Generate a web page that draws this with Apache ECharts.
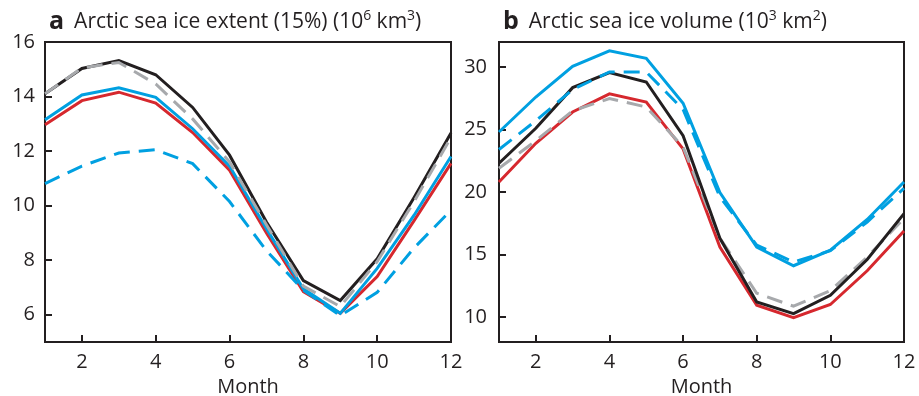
<!DOCTYPE html>
<html lang="en">
<head>
    <meta charset="UTF-8">
    <title>Arctic sea ice</title>
    <script src="https://cdn.jsdelivr.net/npm/echarts@6/dist/echarts.min.js"></script>
    <style>
        body { margin: 0; background: #fff; }
        #chart { width: 919px; height: 396px; }
    </style>
</head>
<body>
    <div id="chart"></div>
    <script>
        // months 1..12
        var months = [1, 2, 3, 4, 5, 6, 7, 8, 9, 10, 11, 12]

        // panel a: extent (15%)
        var extBlack = [14.1, 15.03, 15.32, 14.8, 13.6, 11.85, 9.4, 7.25, 6.52, 8.05, 10.3, 12.66]
        var extGrey = [14.1, 15.05, 15.25, 14.46, 13.18, 11.6, 9.3, 7.05, 6.3, 7.95, 10.15, 12.5]
        var extBlue = [13.15, 14.06, 14.32, 13.97, 12.82, 11.45, 9.15, 6.95, 6.05, 7.7, 9.65, 11.8]
        var extRed = [12.97, 13.85, 14.16, 13.76, 12.68, 11.3, 9.0, 6.85, 6.05, 7.4, 9.45, 11.55]
        var extBlueDash = [10.81, 11.45, 11.93, 12.05, 11.54, 10.15, 8.35, 6.9, 5.97, 6.82, 8.45, 9.83]

        // panel b: volume
        var volBlue = [24.8, 27.6, 30.05, 31.3, 30.7, 27.1, 19.95, 15.6, 14.1, 15.35, 17.8, 20.8]
        var volBlueDash = [23.4, 25.7, 28.2, 29.6, 29.6, 26.6, 19.6, 15.75, 14.4, 15.3, 17.6, 20.3]
        var volBlack = [22.3, 25.1, 28.35, 29.55, 28.8, 24.5, 16.3, 11.2, 10.27, 11.74, 14.6, 18.27]
        var volGrey = [21.9, 24.1, 26.5, 27.47, 26.8, 23.6, 16.3, 11.9, 10.86, 12.1, 14.8, 17.9]
        var volRed = [20.8, 23.9, 26.4, 27.85, 27.2, 23.45, 15.6, 10.95, 9.95, 11.0, 13.7, 16.88]

        var xTicks = [2, 4, 6, 8, 10, 12]
        var extTicks = [6, 8, 10, 12, 14, 16]
        var volTicks = [10, 15, 20, 25, 30]

        var ink = '#231f20'
        var cBlack = '#231f20', cGrey = '#a7a9ac', cBlue = '#00a0e1', cRed = '#d6282e'
        var font = 'Open Sans'

        function pairs(arr) {
            return months.map(function (m, i) { return [m, arr[i]] })
        }

        function line(name, arr, color, dashed, gi) {
            return {
                name: name,
                type: 'line',
                xAxisIndex: gi,
                yAxisIndex: gi,
                data: pairs(arr),
                symbol: 'none',
                silent: true,
                animation: false,
                lineStyle: {
                    color: color,
                    width: 3,
                    type: dashed ? [16, 9] : 'solid',
                    cap: 'butt',
                    join: 'miter'
                }
            }
        }

        function xAx(gi) {
            return {
                type: 'value', gridIndex: gi, min: 1, max: 12,
                name: 'Month', nameLocation: 'middle', nameGap: 34,
                nameTextStyle: { fontFamily: font, fontSize: 20, color: ink },
                axisLine: { show: false },
                axisTick: { show: true, inside: true, length: 7, customValues: xTicks, lineStyle: { color: ink, width: 2 } },
                axisLabel: { customValues: xTicks, margin: 10, fontFamily: font, fontSize: 20, color: ink },
                splitLine: { show: false }
            }
        }

        function yAx(gi, min, max, ticks, margin) {
            return {
                type: 'value', gridIndex: gi, min: min, max: max,
                axisLine: { show: false },
                axisTick: { show: true, inside: true, length: 7, customValues: ticks, lineStyle: { color: ink, width: 2 } },
                axisLabel: { customValues: ticks, margin: margin, fontFamily: font, fontSize: 20, color: ink },
                splitLine: { show: false }
            }
        }

        var richT = {
            p: { fontFamily: font, fontSize: 25, fontWeight: 'bold', color: ink },
            t: { fontFamily: font, fontSize: 21, fontWeight: 'normal', color: ink },
            s: { fontFamily: font, fontSize: 14, fontWeight: 'normal', color: ink, padding: [0, 0, 12, 0] }
        }

        var chart = echarts.init(document.getElementById('chart'), null, { renderer: 'canvas' })
        chart.setOption({
            animation: false,
            backgroundColor: '#fff',
            title: [
                {
                    left: 44, top: 4,
                    text: '{p|a}  {t|Arctic sea ice extent (15%) (10}{s|6}{t| km}{s|3}{t|)}',
                    textStyle: { fontWeight: 'normal', rich: richT }
                },
                {
                    left: 498, top: 4,
                    text: '{p|b}  {t|Arctic sea ice volume (10}{s|3}{t| km}{s|2}{t|)}',
                    textStyle: { fontWeight: 'normal', rich: richT }
                }
            ],
            grid: [
                { left: 45, top: 42, width: 406, height: 300, outerBoundsMode: 'none', containLabel: false, show: true, borderColor: ink, borderWidth: 2, backgroundColor: 'transparent' },
                { left: 499, top: 42, width: 405, height: 300, outerBoundsMode: 'none', containLabel: false, show: true, borderColor: ink, borderWidth: 2, backgroundColor: 'transparent' }
            ],
            xAxis: [xAx(0), xAx(1)],
            yAxis: [yAx(0, 5, 16, extTicks, 10), yAx(1, 8, 32, volTicks, 12)],
            series: [
                line('a red', extRed, cRed, false, 0),
                line('a blue', extBlue, cBlue, false, 0),
                line('a black', extBlack, cBlack, false, 0),
                line('a grey', extGrey, cGrey, true, 0),
                line('a blue dashed', extBlueDash, cBlue, true, 0),
                line('b red', volRed, cRed, false, 1),
                line('b grey', volGrey, cGrey, true, 1),
                line('b black', volBlack, cBlack, false, 1),
                line('b blue', volBlue, cBlue, false, 1),
                line('b blue dashed', volBlueDash, cBlue, true, 1)
            ]
        })
    </script>
</body>
</html>
